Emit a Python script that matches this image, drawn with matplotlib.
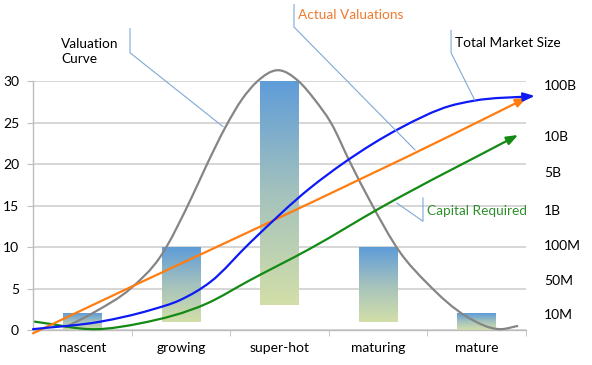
import numpy as np
import matplotlib.pyplot as plt
from matplotlib.path import Path
from matplotlib.patches import PathPatch, FancyArrowPatch
from matplotlib.colors import LinearSegmentedColormap

plt.rcParams['font.family'] = ['Lato', 'DejaVu Sans']

# stages on the x axis and the floating bars (low / high)
stages = ["nascent", "growing", "super-hot", "maturing", "mature"]
bar_low = [0, 1, 3, 1, 0]
bar_high = [2, 10, 30, 10, 2]

# curves (x in category units)
valuation_x = [-0.175, 0.13, 0.49, 0.79, 1.11, 1.27, 1.45, 1.62, 1.77, 1.985, 2.20, 2.36, 2.52, 2.72, 2.92, 3.22, 3.50, 3.90, 4.24, 4.42]
valuation_y = [0.3, 2.2, 5.0, 8.8, 16.0, 20.1, 24.4, 27.8, 29.9, 31.3, 29.9, 27.7, 25.0, 20.1, 15.5, 9.4, 5.6, 1.6, 0.1, 0.5]

market_x = [-0.5, 0.18, 0.69, 0.99, 1.30, 1.70, 2.31, 2.66, 3.22, 3.73, 3.96, 4.59]
market_y = [0.1, 1.0, 2.4, 3.6, 5.8, 10.5, 17.1, 20.2, 24.3, 27.0, 27.6, 28.2]

actual_x = [-0.5, 0.585, 1.92, 3.73, 4.51]
actual_y = [-0.4, 5.7, 13.1, 23.4, 28.0]

capital_x = [-0.48, 0.15, 0.585, 1.265, 1.70, 2.31, 3.02, 4.42]
capital_y = [1.0, 0.1, 0.8, 3.2, 6.0, 9.8, 14.7, 23.5]

# right hand scale labels
right_labels = ["100B", "10B", "5B", "1B", "100M", "50M", "10M"]
right_pos = [29.5, 23.4, 19.0, 14.5, 10.2, 6.0, 1.9]


def smooth_path(xs, ys):
    # cubic hermite through the points (y as a function of x), as bezier segments
    x = np.asarray(xs, float)
    y = np.asarray(ys, float)
    h = np.diff(x)
    d = np.diff(y) / h
    m = np.empty_like(y)
    m[0], m[-1] = d[0], d[-1]
    m[1:-1] = (h[:-1] * d[1:] + h[1:] * d[:-1]) / (h[:-1] + h[1:])
    verts = [(x[0], y[0])]
    codes = [Path.MOVETO]
    for i in range(len(x) - 1):
        verts += [(x[i] + h[i] / 3, y[i] + m[i] * h[i] / 3),
                  (x[i + 1] - h[i] / 3, y[i + 1] - m[i + 1] * h[i] / 3),
                  (x[i + 1], y[i + 1])]
        codes += [Path.CURVE4] * 3
    return Path(verts, codes)


fig = plt.figure(figsize=(5.92, 3.65), dpi=100)
ax = fig.add_axes([33 / 592, 35 / 365, 493 / 592, 249 / 365])

# gradient bars
bar_cmap = LinearSegmentedColormap.from_list("bar", ["#d3dfa9", "#a4c2bd", "#5e9cd9"])
grad = np.linspace(0, 1, 256).reshape(-1, 1)
for i, (lo, hi) in enumerate(zip(bar_low, bar_high)):
    ax.imshow(grad, extent=[i - 0.195, i + 0.195, lo, hi], origin="lower",
              cmap=bar_cmap, aspect="auto", zorder=1, interpolation="bilinear")
ax.set_xlim(-0.5, 4.5)
ax.set_ylim(0, 30)

# valuation curve (no arrow)
ax.add_patch(PathPatch(smooth_path(valuation_x, valuation_y), fill=False,
                       edgecolor="#858585", lw=1.6, zorder=3, clip_on=False))

for xs, ys, col in [(capital_x, capital_y, "#138a13"),
                    (actual_x, actual_y, "#ff7d10"),
                    (market_x, market_y, "#0d1af5")]:
    arr = FancyArrowPatch(path=smooth_path(xs, ys),
                          arrowstyle="-|>,head_length=0.45,head_width=0.17",
                          mutation_scale=15, color=col, lw=1.6, zorder=4,
                          clip_on=False)
    ax.add_patch(arr)

# axes styling
ax.set_yticks(range(0, 31, 5))
ax.yaxis.grid(True, color="#cfcfcf", lw=1.2)
ax.set_axisbelow(True)
for s in ["top", "right"]:
    ax.spines[s].set_visible(False)
for s in ["left", "bottom"]:
    ax.spines[s].set_color("#bdbdbd")
    ax.spines[s].set_linewidth(1.0)
ax.tick_params(axis="y", length=4, color="#bdbdbd", pad=6, labelsize=10)
ax.set_xticks(range(len(stages)), stages)
ax.set_xticks(np.arange(0.5, 5, 1), minor=True)
ax.tick_params(axis="x", which="major", length=0, pad=9, labelsize=10)
ax.tick_params(axis="x", which="minor", length=4, color="#bdbdbd")

ax2 = ax.twinx()
ax2.set_ylim(0, 30)
ax2.set_yticks(right_pos, right_labels)
ax2.tick_params(length=0, pad=13, labelsize=10)
for s in ax2.spines.values():
    s.set_visible(False)

# callouts
fs = 9.8
call = dict(color="#80a8d6", lw=0.8, clip_on=False, zorder=5)
ax.plot([0.484, 0.484, 1.427], [36.3, 33.4, 24.5], **call)
ax.text(-0.216, 33.5, "Valuation\nCurve", ha="left", va="center", fontsize=fs,
        linespacing=1.3, clip_on=False)

ax.plot([2.147, 2.147, 3.374], [39.2, 36.5, 21.7], **call)
ax.text(2.188, 37.95, "Actual Valuations", ha="left", va="center", fontsize=fs,
        color="#f07a30", clip_on=False)

ax.plot([3.74, 3.74, 3.98], [36.1, 33.4, 27.7], **call)
ax.text(3.78, 34.6, "Total Market Size", ha="left", va="center", fontsize=fs,
        clip_on=False)

ax.plot([3.19, 3.455, 3.455], [15.3, 13.1, 15.9], **call)
ax.text(3.496, 14.3, "Capital Required", ha="left", va="center", fontsize=fs,
        color="#2f8f2f", clip_on=False)

fig.savefig("out.png", dpi=100)
